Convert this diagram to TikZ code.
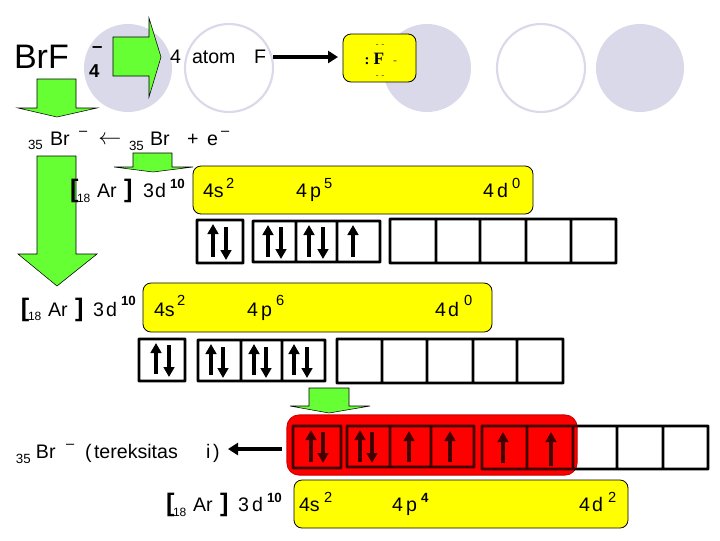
\documentclass[tikz,border=0pt]{standalone}
\usepackage{fontspec}
\setmainfont{Liberation Sans}
\newfontfamily\serfam{Liberation Serif}
\usetikzlibrary{arrows.meta}
\definecolor{circ}{HTML}{D9D9EA}
\definecolor{grn}{HTML}{66FF33}
\definecolor{yel}{HTML}{FFFF00}
\tikzset{
  x=0.75pt,y=-0.75pt,
  filledcirc/.style={fill=circ,draw=none},
  opencirc/.style={draw=circ,line width=1.6pt,fill=white},
  blockarrow/.style={fill=grn,draw=black,line width=0.4pt},
  yelbox/.style={fill=yel,draw=black,line width=0.6pt,rounded corners=6pt},
  orb/.style={draw=black,line width=2.2pt,rounded corners=0.4pt},
  spin/.style={line width=2.5pt,-{Triangle[length=7.5pt,width=8pt]}},
  conn/.style={line width=2.8pt,-{Triangle[length=7.5pt,width=9pt]}},
  txt/.style={anchor=base west,inner sep=0pt,outer sep=0pt,text=black},
  fm/.style={txt,font=\fontsize{14.7}{16}\selectfont},
  dsh/.style={txt,font=\fontsize{11}{12}\selectfont},
  sb/.style={txt,font=\fontsize{10}{11}\selectfont},
  sbs/.style={txt,font=\fontsize{9}{10}\selectfont},
  sp/.style={txt,font=\fontsize{11}{12}\selectfont},
  spb/.style={txt,font=\fontsize{10}{11}\selectfont\bfseries},
  brk/.style={txt,font=\fontsize{19}{20}\selectfont\bfseries},
}
\newcommand{\upspin}[3]{\draw[spin] (#1,#3) -- (#1,#2);}
\newcommand{\downspin}[3]{\draw[spin] (#1,#2) -- (#1,#3);}
\begin{document}
\begin{tikzpicture}
\useasboundingbox (0,0) rectangle (720,540);
\fill[white] (0,0) rectangle (720,540);
% background circles
\fill[filledcirc] (128,68) circle[radius=44];
\draw[opencirc] (229,68) circle[radius=44];
\fill[filledcirc] (427,68) circle[radius=44];
\draw[opencirc] (541,68) circle[radius=44];
\fill[filledcirc] (640,68) circle[radius=44];
% block arrows
\draw[blockarrow] (113,37) -- (149,37) -- (149,18) -- (161,57) -- (149,97) -- (149,76) -- (113,76) -- cycle;
\draw[blockarrow] (37,79) -- (76,79) -- (76,108) -- (97,108) -- (57,117) -- (18,108) -- (37,108) -- cycle;
\draw[blockarrow] (37,156) -- (76,156) -- (76,254) -- (97,254) -- (57,286) -- (18,254) -- (37,254) -- cycle;
\draw[blockarrow] (133,153) -- (172,153) -- (172,167) -- (193,167) -- (153,172) -- (114,167) -- (133,167) -- cycle;
\draw[blockarrow] (309,388) -- (349,388) -- (349,406) -- (370,406) -- (329,413) -- (290,406) -- (309,406) -- cycle;
% yellow boxes
\draw[yelbox] (343,34) rectangle (416,82);
\draw[yelbox] (193,166) rectangle (533,214);
\draw[yelbox] (143,283) rectangle (492,332);
\draw[yelbox] (294,480) rectangle (628,528);
% red panel
\path[fill=red,draw=red!80!black,line width=0.8pt,rounded corners=9pt] (287,415) rectangle (577,475);
% row 1 orbitals
\draw[orb] (197,220) rectangle (243,263);
\draw[orb] (253,221) rectangle (380,262) (296,221) -- (296,262) (337,221) -- (337,262);
\draw[orb] (390,219) rectangle (616,263) (436,219) -- (436,263) (480,219) -- (480,263) (526,219) -- (526,263) (571,219) -- (571,263);
\upspin{213}{224}{257}\downspin{226}{227}{260}
\upspin{268}{225}{257}\downspin{281}{227}{259}
\upspin{309}{225}{257}\downspin{323}{227}{259}
\upspin{353}{225}{257}
% row 2 orbitals
\draw[orb] (139,339) rectangle (185,381);
\draw[orb] (198,340) rectangle (325,381) (241,340) -- (241,381) (282,340) -- (282,381);
\draw[orb] (337,339) rectangle (563,383) (382,339) -- (382,383) (427,339) -- (427,383) (473,339) -- (473,383) (517,339) -- (517,383);
\upspin{156}{343}{374}\downspin{169}{345}{377}
\upspin{211}{344}{375}\downspin{223}{347}{378}
\upspin{254}{344}{375}\downspin{266}{347}{378}
\upspin{294}{344}{375}\downspin{307}{347}{378}
% row 3 orbitals
\draw[orb] (293,426) rectangle (341,468);
\draw[orb] (347,426) rectangle (474,467) (390,426) -- (390,467) (431,426) -- (431,467);
\draw[orb] (482,426) rectangle (708,469) (527,426) -- (527,469) (573,426) -- (573,469) (617,426) -- (617,469) (663,426) -- (663,469);
\upspin{311}{430}{462}\downspin{323}{432}{463}
\upspin{360}{430}{462}\downspin{372}{432}{463}
\upspin{409}{431}{462}
\upspin{450}{431}{462}
\upspin{503}{432}{463}
\upspin{551}{432}{466}
\fill[red,fill opacity=0.25,rounded corners=9pt] (287,415) rectangle (577,475);
% title
\node[txt,font=\fontsize{25.5}{28}\selectfont] (t1) at (14,68) {BrF};
\node[txt,font=\fontsize{14}{15}\selectfont\bfseries] (t2) at (92,52) {–};
\node[txt,font=\fontsize{14}{15}\selectfont\bfseries] (t3) at (89,77) {4};
\node[fm] (t4) at (170,63) {4};
\node[fm] (t5) at (192,63) {atom};
\node[fm] (atomF) at (254,63) {F};
% Lewis symbol
\node[anchor=base,inner sep=0pt,font=\fontsize{13}{14}\selectfont\bfseries\serfam] (t6) at (379,64) {F};
\node[anchor=base,inner sep=0pt,font=\fontsize{11}{12}\selectfont\bfseries\serfam] (t6a) at (367,64) {:};
\node[anchor=base,inner sep=0pt,font=\fontsize{9}{10}\selectfont,text=black!70] (t6b) at (395,64) {-};
\node[anchor=center,inner sep=0pt,font=\fontsize{7}{8}\selectfont,text=black!70] (t7) at (380,46) {- -};
\node[anchor=center,inner sep=0pt,font=\fontsize{7}{8}\selectfont,text=black!70] (t8) at (380,77) {- -};
% equation
\node[sb] (e1) at (28,149) {35};
\node[fm] (e2) at (50,145) {Br};
\node[dsh] (e3) at (79,135) {–};
\node[anchor=center,inner sep=0pt,font=\fontsize{16}{17}\selectfont] (e4) at (110,140) {$\leftarrow$};
\node[sb] (e5) at (129,150) {35};
\node[fm] (e6) at (150,145) {Br};
\node[fm] (e7) at (187,145) {+};
\node[fm] (e8) at (207,145) {e};
\node[dsh] (e9) at (221,135) {–};
% config 1
\node[brk] (a1) at (70,197) {[};
\node[sbs] (a2) at (77,202) {18};
\node[fm] (a3) at (97,197) {Ar};
\node[brk] (a4) at (124,197) {]};
\node[fm] (a5) at (143,197) {3};
\node[fm] (a6) at (155,197) {d};
\node[spb] (a7) at (170,188) {10};
\node[fm] (a8) at (203,197) {4s};
\node[sp] (a9) at (226,188) {2};
\node[fm] (a10) at (296,197) {4};
\node[fm] (a11) at (310,197) {p};
\node[sp] (a12) at (324,188) {5};
\node[fm] (a13) at (483,197) {4};
\node[fm] (a14) at (497,197) {d};
\node[sp] (a15) at (512,188) {0};
% config 2
\node[brk] (b1) at (21,316) {[};
\node[sbs] (b2) at (28,320) {18};
\node[fm] (b3) at (48,316) {Ar};
\node[brk] (b4) at (75,316) {]};
\node[fm] (b5) at (93,316) {3};
\node[fm] (b6) at (106,316) {d};
\node[spb] (b7) at (121,305) {10};
\node[fm] (b8) at (154,316) {4s};
\node[sp] (b9) at (177,305) {2};
\node[fm] (b10) at (247,316) {4};
\node[fm] (b11) at (261,316) {p};
\node[sp] (b12) at (276,305) {6};
\node[fm] (b13) at (435,316) {4};
\node[fm] (b14) at (448,316) {d};
\node[sp] (b15) at (464,305) {0};
% excited label
\node[sb] (c1) at (16,463) {35};
\node[fm] (c2) at (36,458) {Br};
\node[dsh] (c3) at (66,448) {–};
\node[fm] (c4) at (85,458) {(};
\node[fm] (c5) at (94,458) {tereksitas};
\node[fm] (c6) at (206,458) {i};
\node[fm] (c7) at (213,458) {)};
% config 3
\node[brk] (d1) at (166,511) {[};
\node[sbs] (d2) at (173,516) {18};
\node[fm] (d3) at (193,511) {Ar};
\node[brk] (d4) at (220,511) {]};
\node[fm] (d5) at (238,511) {3};
\node[fm] (d6) at (252,511) {d};
\node[spb] (d7) at (267,502) {10};
\node[fm] (d8) at (299,511) {4s};
\node[sp] (d9) at (324,502) {2};
\node[fm] (d10) at (392,511) {4};
\node[fm] (d11) at (406,511) {p};
\node[spb] (d12) at (421,502) {4};
\node[fm] (d13) at (579,511) {4};
\node[fm] (d14) at (592,511) {d};
\node[sp] (d15) at (608,502) {2};
% connectors
\coordinate (fromF) at (273,57);
\coordinate (toBox) at (338,57);
\coordinate (fromRed) at (282,449);
\coordinate (toLabel) at (228,449);
\draw[conn] (fromF) -- (toBox);
\draw[conn] (fromRed) -- (toLabel);
\end{tikzpicture}
\end{document}
